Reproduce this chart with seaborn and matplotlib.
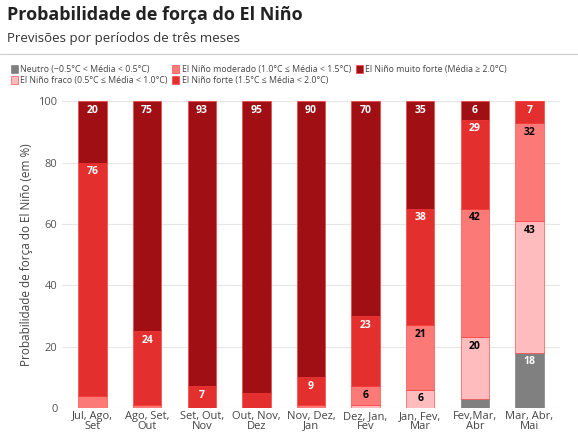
import matplotlib
matplotlib.use('Agg')
import matplotlib.pyplot as plt
import seaborn as sns
import pandas as pd
import numpy as np

sns.set_theme(style='white')
plt.rcParams['font.family'] = ['Open Sans', 'DejaVu Sans']

periods = ['Jul, Ago,\nSet', 'Ago, Set,\nOut', 'Set, Out,\nNov', 'Out, Nov,\nDez', 'Nov, Dez,\nJan',
           'Dez, Jan,\nFev', 'Jan, Fev,\nMar', 'Fev,Mar,\nAbr', 'Mar, Abr,\nMai']
neutro = [0, 0, 0, 0, 0, 0, 0, 3, 18]
fraco = [0, 0, 0, 0, 0, 1, 6, 20, 43]
moderado = [4, 1, 0, 0, 1, 6, 21, 42, 32]
forte = [76, 24, 7, 5, 9, 23, 38, 29, 7]
muito_forte = [20, 75, 93, 95, 90, 70, 35, 6, 0]

series = {
    'Neutro (−0.5°C < Média < 0.5°C)': neutro,
    'El Niño fraco (0.5°C ≤ Média < 1.0°C)': fraco,
    'El Niño moderado (1.0°C ≤ Média < 1.5°C)': moderado,
    'El Niño forte (1.5°C ≤ Média < 2.0°C)': forte,
    'El Niño muito forte (Média ≥ 2.0°C)': muito_forte,
}
colors = ['#808080', '#ffbcbf', '#fb7a78', '#e3302f', '#a00f13']
text_colors = ['white', 'black', 'black', 'white', 'white']

fig = plt.figure(figsize=(5.78, 4.41), dpi=100)
ax = fig.add_axes([0.108, 0.075, 0.86, 0.695])

bottom = np.zeros(len(periods))
handles = []
for (name, vals), c, tc in zip(series.items(), colors, text_colors):
    df = pd.DataFrame({'p': periods, 'v': vals})
    b = ax.bar(df['p'], df['v'], bottom=bottom, width=0.52, color=c,
               edgecolor='#ff3030' if c != '#808080' else '#707070', linewidth=0.4, label=name)
    handles.append(b)
    for i, v in enumerate(vals):
        if v >= 6:
            ax.text(i, bottom[i] + v - 1.2, str(v), ha='center', va='top',
                    fontsize=7.5, fontweight='bold', color=tc)
    bottom += np.array(vals)

ax.set_ylim(0, 100)
ax.set_xlim(-0.55, 8.55)
ax.set_yticks([0, 20, 40, 60, 80, 100])
ax.tick_params(axis='y', labelsize=8, colors='#555555', length=0)
ax.tick_params(axis='x', labelsize=8, colors='#444444', length=0, pad=2)
for lbl in ax.get_xticklabels():
    lbl.set_linespacing(0.85)
ax.yaxis.grid(True, color='#e6e6e6', linewidth=0.8)
ax.set_axisbelow(True)
sns.despine(ax=ax, left=True, bottom=True)
ax.set_ylabel('Probabilidade de força do El Niño (em %)', fontsize=8.5, color='#444444')

fig.text(0.012, 0.955, 'Probabilidade de força do El Niño', fontsize=13, fontweight='bold', color='#222222')
fig.text(0.012, 0.905, 'Previsões por períodos de três meses', fontsize=9.5, color='#333333')
fig.add_artist(plt.Line2D([0.0, 1.0], [0.878, 0.878], color='#cccccc', linewidth=0.8))
fig.legend(handles=handles, loc='upper left', bbox_to_anchor=(0.005, 0.87), ncol=3,
           fontsize=6.3, frameon=False, handlelength=0.8, handleheight=1.0,
           handletextpad=0.3, columnspacing=0.5, labelspacing=0.2, labelcolor='#444444')
fig.savefig('out.png', dpi=100)
